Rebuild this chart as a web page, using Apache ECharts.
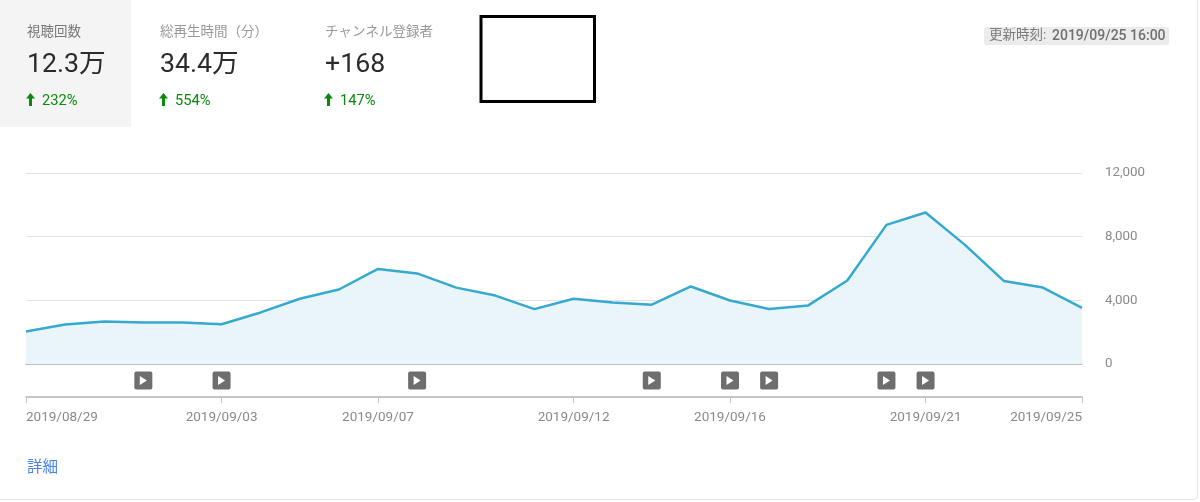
<!DOCTYPE html>
<html>
<head>
<meta charset="utf-8">
<style>
  html, body { margin: 0; padding: 0; background: #fff; }
  #main { width: 1200px; height: 502px; }
</style>
<script src="https://cdn.jsdelivr.net/npm/echarts@6/dist/echarts.min.js"></script>
</head>
<body>
<div id="main"></div>
<script>
var dates = [
  "2019/08/29", "2019/08/30", "2019/08/31", "2019/09/01", "2019/09/02", "2019/09/03", "2019/09/04",
  "2019/09/05", "2019/09/06", "2019/09/07", "2019/09/08", "2019/09/09", "2019/09/10", "2019/09/11",
  "2019/09/12", "2019/09/13", "2019/09/14", "2019/09/15", "2019/09/16", "2019/09/17", "2019/09/18",
  "2019/09/19", "2019/09/20", "2019/09/21", "2019/09/22", "2019/09/23", "2019/09/24", "2019/09/25"
];
var views = [
  2040, 2480, 2670, 2600, 2600, 2500, 3240,
  4100, 4680, 5970, 5690, 4800, 4300, 3450,
  4100, 3860, 3730, 4870, 3990, 3450, 3680,
  5250, 8740, 9520, 7500, 5220, 4800, 3520
];
var tickDates = ["2019/08/29", "2019/09/03", "2019/09/07", "2019/09/12", "2019/09/16", "2019/09/21", "2019/09/25"];
var videoDates = ["2019/09/01", "2019/09/03", "2019/09/08", "2019/09/14", "2019/09/16", "2019/09/17", "2019/09/20", "2019/09/21"];
var videoRow = ["動画"];

var kpiLabels = ["視聴回数", "総再生時間（分）", "チャンネル登録者"];
var kpiValues = ["12.3万", "34.4万", "+168"];
var kpiChanges = ["232%", "554%", "147%"];
var kpiLeft = [27, 160, 325];

var FONT = "Roboto, 'Noto Sans CJK JP', sans-serif";
var ROUND_SQUARE = "path://M2 0H16Q18 0 18 2V16Q18 18 16 18H2Q0 18 0 16V2Q0 0 2 0Z";

var chartDom = document.getElementById("main");
var myChart = echarts.init(chartDom, null, { renderer: "canvas" });

function isTick(index, value) {
  return tickDates.indexOf(value) >= 0;
}

// KPIのテキストは graphic で置く
var graphics = [
  {
    type: "rect", silent: true, z: 0,
    shape: { x: -3, y: -3, width: 1200.5, height: 502.5, r: 4 },
    style: { fill: "#fff", stroke: "#e4e4e4", lineWidth: 1 }
  },
  {
    type: "rect", silent: true, z: 1,
    shape: { x: 0, y: 0, width: 131, height: 127 },
    style: { fill: "#f4f4f4" }
  },
  {
    type: "rect", silent: true, z: 1,
    shape: { x: 481, y: 16.5, width: 113.5, height: 85 },
    style: { fill: "#fff", stroke: "#000", lineWidth: 3 }
  },
  {
    type: "rect", silent: true, z: 1,
    shape: { x: 984, y: 27, width: 185, height: 18, r: 2 },
    style: { fill: "#ececec" }
  },
  {
    type: "text", silent: true, z: 2, x: 989, y: 36,
    style: { text: "更新時刻:", font: "13.5px " + FONT, fill: "#7a7a7a", verticalAlign: "middle" }
  },
  {
    type: "text", silent: true, z: 2, x: 1052, y: 36,
    style: { text: "2019/09/25 16:00", font: "500 14px " + FONT, fill: "#6f6f6f", verticalAlign: "middle" }
  },
  {
    type: "text", silent: true, z: 2, x: 27, y: 468,
    style: { text: "詳細", font: "15.5px " + FONT, fill: "#4a86e8", verticalAlign: "middle" }
  }
];
kpiLabels.forEach(function (label, i) {
  var left = kpiLeft[i];
  graphics.push({
    type: "text", silent: true, z: 2, x: left, y: 33,
    style: { text: label, font: "13.5px " + FONT, fill: i === 0 ? "#777" : "#9a9a9a", verticalAlign: "middle" }
  });
  graphics.push({
    type: "text", silent: true, z: 2, x: left, y: 65,
    style: { text: kpiValues[i], font: "26.7px " + FONT, fill: "#2b2b2b", verticalAlign: "middle" }
  });
  // 上向き矢印
  graphics.push({
    type: "polygon", silent: true, z: 2,
    shape: {
      points: [
        [left + 3.5, 93], [left + 8, 98.5], [left + 5, 98.5], [left + 5, 106],
        [left + 2, 106], [left + 2, 98.5], [left - 1, 98.5]
      ]
    },
    style: { fill: "#0a8a0a" }
  });
  graphics.push({
    type: "text", silent: true, z: 2, x: left + 15, y: 101,
    style: { text: kpiChanges[i], font: "14.7px " + FONT, fill: "#0a8a0a", verticalAlign: "middle" }
  });
});

var option = {
  animation: false,
  textStyle: { fontFamily: FONT },
  graphic: graphics,
  grid: [
    { left: 26, right: 118, top: 173, height: 191 },
    { left: 26, right: 118, top: 364, height: 33 }
  ],
  xAxis: [
    {
      type: "category", gridIndex: 0, data: dates, boundaryGap: false,
      axisLabel: { show: false },
      axisTick: { show: false },
      axisLine: { lineStyle: { color: "#b4b4b4", width: 1.5 } }
    },
    {
      type: "category", gridIndex: 1, data: dates, boundaryGap: false,
      axisTick: { show: true, length: 6, interval: isTick, lineStyle: { color: "#c4c4c4" } },
      axisLine: { lineStyle: { color: "#b4b4b4", width: 1.5 } },
      axisLabel: {
        interval: isTick,
        margin: 14,
        color: "#8a8a8a",
        fontSize: 13.5,
        alignMinLabel: "left",
        alignMaxLabel: "right"
      }
    }
  ],
  yAxis: [
    {
      type: "value", gridIndex: 0, position: "right", min: 0, max: 12000, interval: 4000,
      axisLine: { show: false },
      axisTick: { show: false },
      axisLabel: {
        margin: 23,
        color: "#8a8a8a",
        fontSize: 13.3,
        padding: [4, 0, 0, 0],
        formatter: function (v) { return v.toLocaleString("en-US"); }
      },
      splitLine: { lineStyle: { color: "#e2e2e2" } }
    },
    { type: "category", gridIndex: 1, data: videoRow, show: false }
  ],
  series: [
    {
      type: "line", xAxisIndex: 0, yAxisIndex: 0, data: views,
      symbol: "none", smooth: false,
      lineStyle: { color: "#35a9cf", width: 2.5 },
      areaStyle: { color: "#e9f5f9", opacity: 1 }
    },
    {
      type: "scatter", xAxisIndex: 1, yAxisIndex: 1, silent: true,
      data: videoDates.map(function (d) { return [d, videoRow[0]]; }),
      symbol: ROUND_SQUARE, symbolSize: 18,
      itemStyle: { color: "#6e6e6e", opacity: 1 }
    },
    {
      type: "scatter", xAxisIndex: 1, yAxisIndex: 1, silent: true, z: 3,
      data: videoDates.map(function (d) { return [d, videoRow[0]]; }),
      symbol: "triangle", symbolSize: [9, 7], symbolRotate: -90,
      itemStyle: { color: "#fff", opacity: 1 }
    }
  ]
};

option && myChart.setOption(option);
window.addEventListener("resize", function () {
  myChart.resize();
});
</script>
</body>
</html>
